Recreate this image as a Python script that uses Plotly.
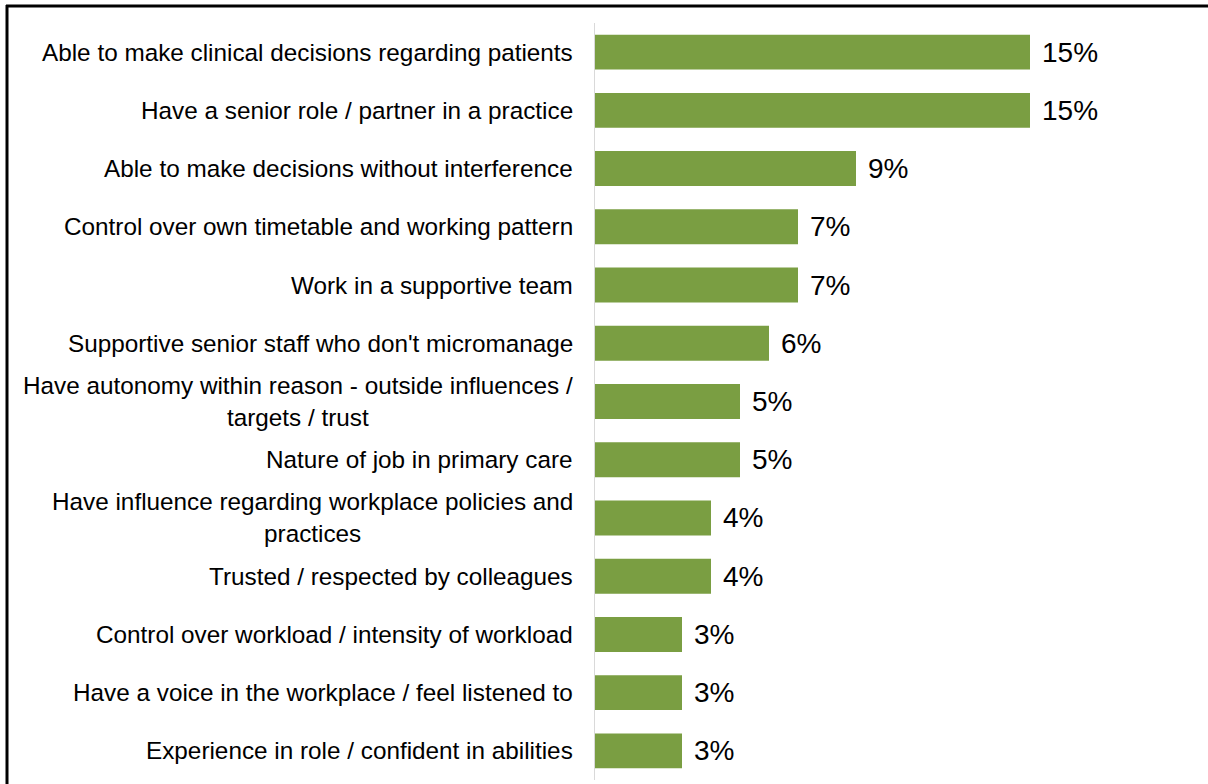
import plotly.graph_objects as go

categories = [
    "Able to make clinical decisions regarding patients",
    "Have a senior role / partner in a practice",
    "Able to make decisions without interference",
    "Control over own timetable and working pattern",
    "Work in a supportive team",
    "Supportive senior staff who don't micromanage",
    "Have autonomy within reason - outside influences /<br>targets / trust",
    "Nature of job in primary care",
    "Have influence regarding workplace policies and<br>practices",
    "Trusted / respected by colleagues",
    "Control over workload / intensity of workload",
    "Have a voice in the workplace / feel listened to",
    "Experience in role / confident in abilities",
]
values = [15, 15, 9, 7, 7, 6, 5, 5, 4, 4, 3, 3, 3]

W, H = 1208, 784
ML, MR, MT, MB = 595, 33, 23, 4
BAR_COLOR = "#7A9E42"
FONT = "Liberation Sans, Arial, sans-serif"

fig = go.Figure(
    go.Bar(
        x=values,
        y=list(range(len(categories))),
        orientation="h",
        marker=dict(color=BAR_COLOR, line=dict(width=0)),
        hoverinfo="skip",
    )
)

annotations = []
for i, (cat, v) in enumerate(zip(categories, values)):
    # category label, centred block anchored to the left of the axis
    annotations.append(dict(
        x=0, xref="x", y=i, yref="y", text=cat, showarrow=False,
        xanchor="right", yanchor="middle", align="center", xshift=-20,
        font=dict(family=FONT, size=24.3, color="#000000"),
    ))
    # value label at the bar end
    annotations.append(dict(
        x=v, xref="x", y=i, yref="y", text=f"{v}%", showarrow=False,
        xanchor="left", yanchor="middle", xshift=10,
        font=dict(family=FONT, size=28, color="#000000"),
    ))

pw = W - ML - MR
ph = H - MT - MB
def px_x(p):
    return (p - ML) / pw
def px_y(p):
    return 1 - (p - MT) / ph

shapes = [
    # outer frame: left and top edges
    dict(type="line", xref="paper", yref="paper", x0=px_x(7), x1=px_x(7),
         y0=px_y(5), y1=px_y(H + 5), line=dict(color="#000000", width=3)),
    dict(type="line", xref="paper", yref="paper", x0=px_x(6), x1=px_x(W + 5),
         y0=px_y(6), y1=px_y(6), line=dict(color="#000000", width=3)),
]

fig.update_layout(
    width=W, height=H,
    margin=dict(l=ML, r=MR, t=MT, b=MB),
    paper_bgcolor="white", plot_bgcolor="white",
    bargap=0.4,
    showlegend=False,
    annotations=annotations,
    shapes=shapes,
    xaxis=dict(range=[0, 20], showgrid=False, zeroline=False, showline=False,
               showticklabels=False, ticks=""),
    yaxis=dict(range=[len(categories) - 0.5, -0.5], showgrid=False, zeroline=False,
               showline=True, linecolor="#D9D9D9", linewidth=1,
               showticklabels=False, ticks=""),
)

fig.write_html("out.html")
